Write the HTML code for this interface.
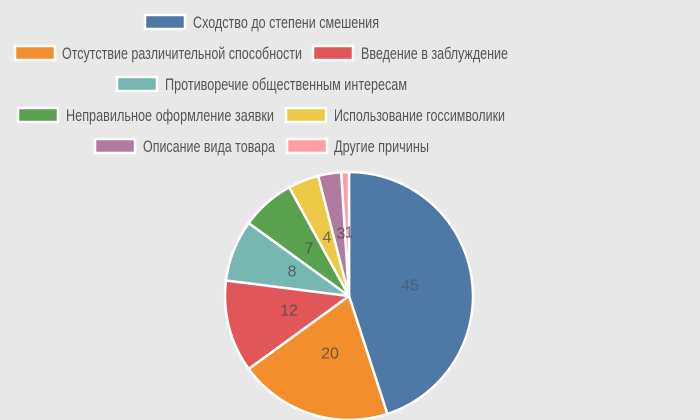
<!DOCTYPE html>
<html><head><meta charset="utf-8"><style>
html,body{margin:0;padding:0;background:#e8e8e8;}
svg{display:block;font-family:"Liberation Sans",sans-serif;}
.lg{font-size:16.5px;fill:#555;}
.lb{font-size:16px;fill:#444;fill-opacity:0.75;text-anchor:middle;dominant-baseline:central;}
</style></head><body>
<svg width="700" height="420" viewBox="0 0 700 420">
<rect width="700" height="420" fill="#e8e8e8"/>
<g stroke="#fff" stroke-width="2.5">
<rect x="145" y="15" width="40" height="14" fill="#4e79a7"/>
<rect x="15" y="46" width="40" height="14" fill="#f28e2b"/>
<rect x="313" y="46" width="40" height="14" fill="#e15759"/>
<rect x="117" y="77" width="40" height="14" fill="#76b7b2"/>
<rect x="18" y="108" width="40" height="14" fill="#59a14f"/>
<rect x="286" y="108" width="40" height="14" fill="#edc948"/>
<rect x="95" y="139" width="40" height="14" fill="#b07aa1"/>
<rect x="287" y="139" width="40" height="14" fill="#ff9da7"/>
</g>
<g class="lg" lengthAdjust="spacingAndGlyphs">
<text x="193" y="28" textLength="186" lengthAdjust="spacingAndGlyphs">Сходство до степени смешения</text>
<text x="62" y="59" textLength="240" lengthAdjust="spacingAndGlyphs">Отсутствие различительной способности</text>
<text x="361" y="59" textLength="147" lengthAdjust="spacingAndGlyphs">Введение в заблуждение</text>
<text x="165" y="90" textLength="242" lengthAdjust="spacingAndGlyphs">Противоречие общественным интересам</text>
<text x="66" y="121" textLength="208" lengthAdjust="spacingAndGlyphs">Неправильное оформление заявки</text>
<text x="334" y="121" textLength="171" lengthAdjust="spacingAndGlyphs">Использование госсимволики</text>
<text x="143" y="152" textLength="132" lengthAdjust="spacingAndGlyphs">Описание вида товара</text>
<text x="334" y="152" textLength="95" lengthAdjust="spacingAndGlyphs">Другие причины</text>
</g>
<g id="pie" stroke="#fff" stroke-width="2.5" stroke-linejoin="round"></g>
<g class="lb">
<text x="410" y="286" fill-opacity="0.45">45</text>
<text x="330" y="354">20</text>
<text x="289" y="311">12</text>
<text x="292" y="272">8</text>
<text x="309" y="249">7</text>
<text x="327" y="238">4</text>
<text x="341" y="234">3</text>
<text x="349" y="233">1</text>
</g>
</svg>
<script>
var vals=[45,20,12,8,7,4,3,1],cols=["#4e79a7","#f28e2b","#e15759","#76b7b2","#59a14f","#edc948","#b07aa1","#ff9da7"];
var cx=349,cy=296,r=124,a=0,g=document.getElementById("pie"),h="";
function p(t){t=t*Math.PI/180;return (cx+r*Math.sin(t)).toFixed(2)+","+(cy-r*Math.cos(t)).toFixed(2);}
vals.forEach(function(v,i){var b=a+v*3.6;h+='<path fill="'+cols[i]+'" d="M'+cx+','+cy+' L'+p(a)+' A'+r+','+r+' 0 '+(v>50?1:0)+' 1 '+p(b)+' Z"/>';a=b;});
g.innerHTML=h;
</script>
</body></html>
